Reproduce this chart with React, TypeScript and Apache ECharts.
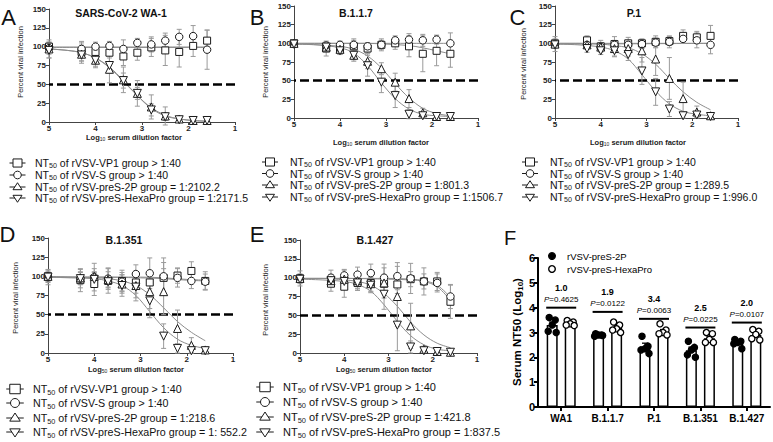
import React, { useEffect, useRef } from "react";
import * as echarts from "echarts";

const FONT = '"Liberation Sans", Arial, Helvetica, sans-serif';

// log10 serum dilution factor of each measured point
const LOG_DILUTION = [5, 4.3, 4.0, 3.7, 3.4, 3.1, 2.8, 2.5, 2.2, 1.9, 1.6];
const GROUPS = ["rVSV-VP1", "rVSV-S", "rVSV-preS-2P", "rVSV-preS-HexaPro"];

// ---------- Panel A : SARS-CoV-2 WA-1 ----------
const A_VP1 = [100, 93, 93, 92, 87, 92, 99, 95, 93, 101, 108];
const A_VP1_SD = [6, 12, 10, 12, 12, 10, 12, 20, 20, 14, 14];
const A_S = [98, 97, 100, 101, 97, 105, 103, 108, 113, 114, 96];
const A_S_SD = [8, 10, 6, 6, 12, 6, 10, 10, 10, 14, 26];
const A_2P = [97, 90, 82, 70, 56, 38, 20, 8, 4, 2, 2];
const A_2P_SD = [12, 12, 10, 18, 17, 17, 16, 12, 4, 2, 2];
const A_HEXA = [95, 89, 82, 75, 55, 38, 16, 7, 3, 2, 2];
const A_HEXA_SD = [10, 8, 8, 10, 10, 8, 8, 5, 2, 1, 1];
const A_FIT_VP1 = [[5, 99], [4, 99], [3, 99], [2, 99], [1.6, 99]];
const A_FIT_S = [[5, 99.5], [3, 99.5], [1.6, 99.5]];
const A_FIT_2P = [[5, 97], [4.6, 95], [4.3, 92], [4, 85], [3.7, 72], [3.4, 54], [3.1, 35], [2.8, 19], [2.5, 9], [2.2, 4], [1.9, 2], [1.6, 1]];
const A_FIT_HEXA = [[5, 97], [4.6, 95], [4.3, 92], [4, 85], [3.7, 73], [3.4, 55], [3.1, 35], [2.8, 18], [2.5, 8], [2.2, 4], [1.9, 2], [1.6, 1]];
const A_NT50 = ["> 1:40", "> 1:40", "= 1:2102.2", "= 1:2171.5"];

// ---------- Panel B : B.1.1.7 ----------
const B_VP1 = [100, 93, 93, 96, 93, 98, 100, 96, 86, 90, 86];
const B_VP1_SD = [4, 10, 8, 8, 6, 8, 8, 14, 24, 20, 18];
const B_S = [99, 97, 98, 98, 96, 98, 104, 105, 104, 105, 100];
const B_S_SD = [3, 5, 5, 8, 5, 6, 6, 8, 8, 6, 14];
const B_2P = [100, 95, 92, 84, 76, 66, 48, 26, 7, 2, 2];
const B_2P_SD = [4, 6, 6, 6, 10, 8, 12, 12, 6, 2, 2];
const B_HEXA = [99, 95, 90, 84, 70, 48, 30, 5, 3, 2, 2];
const B_HEXA_SD = [3, 6, 5, 8, 14, 14, 16, 6, 3, 2, 2];
const B_FIT_VP1 = [[5, 100], [4, 100], [3.5, 100], [3, 99], [2.5, 97], [2.2, 94], [1.9, 90], [1.6, 86]];
const B_FIT_S = [[5, 100], [3, 100], [1.6, 100]];
const B_FIT_2P = [[5, 99], [4.5, 98], [4, 96], [3.7, 92], [3.4, 83], [3.1, 67], [2.8, 46], [2.5, 27], [2.2, 13], [1.9, 6], [1.6, 3]];
const B_FIT_HEXA = [[5, 99], [4.5, 98], [4, 94], [3.7, 87], [3.4, 70], [3.1, 47], [2.8, 26], [2.5, 12], [2.2, 5], [1.9, 3], [1.6, 2]];
const B_NT50 = ["> 1:40", "> 1:40", "= 1:801.3", "= 1:1506.7"];

// ---------- Panel C : P.1 ----------
const C_VP1 = [100, 104, 96, 99, 100, 100, 102, 103, 110, 108, 110];
const C_VP1_SD = [6, 6, 8, 10, 8, 6, 8, 6, 8, 8, 14];
const C_S = [99, 98, 95, 98, 98, 99, 101, 102, 106, 104, 98];
const C_S_SD = [10, 6, 6, 6, 6, 6, 6, 8, 6, 10, 12];
const C_2P = [99, 98, 95, 93, 93, 90, 79, 53, 26, 8, 3];
const C_2P_SD = [5, 5, 5, 10, 10, 15, 22, 28, 22, 8, 3];
const C_HEXA = [98, 93, 90, 90, 85, 63, 35, 12, 3, 4, 2];
const C_HEXA_SD = [4, 5, 5, 8, 8, 18, 18, 10, 3, 3, 2];
const C_FIT_VP1 = [[5, 100], [3, 100], [1.6, 100]];
const C_FIT_S = [[5, 99], [3, 99.5], [1.6, 100]];
const C_FIT_2P = [[5, 100], [4.5, 100], [4, 99], [3.7, 97], [3.4, 94], [3.1, 86], [2.8, 72], [2.5, 53], [2.2, 35], [1.9, 21], [1.6, 11]];
const C_FIT_HEXA = [[5, 99], [4.5, 98], [4, 95], [3.7, 90], [3.4, 79], [3.1, 58], [2.8, 36], [2.5, 19], [2.2, 9], [1.9, 5], [1.6, 3]];
const C_NT50 = ["> 1:40", "> 1:40", "= 1:289.5", "= 1:996.0"];

// ---------- Panel D : B.1.351 ----------
const D_VP1 = [100, 95, 90, 94, 94, 92, 92, 98, 101, 107, 94];
const D_VP1_SD = [8, 15, 15, 16, 14, 14, 14, 20, 10, 12, 12];
const D_S = [99, 97, 99, 97, 93, 103, 104, 100, 98, 94, 93];
const D_S_SD = [10, 12, 18, 14, 12, 12, 20, 24, 12, 10, 10];
const D_2P = [100, 98, 100, 96, 90, 88, 80, 80, 32, 10, 4];
const D_2P_SD = [6, 8, 10, 10, 12, 16, 22, 30, 24, 10, 4];
const D_HEXA = [99, 97, 96, 93, 88, 86, 68, 22, 6, 3, 3];
const D_HEXA_SD = [6, 8, 10, 8, 14, 18, 22, 16, 6, 3, 2];
const D_FIT_VP1 = [[5, 99], [4, 99], [3, 98], [2.5, 97], [2, 95], [1.6, 94]];
const D_FIT_S = [[5, 99], [4, 99], [3, 99], [2.5, 98], [2, 96], [1.6, 95]];
const D_FIT_2P = [[5, 100], [4.5, 99], [4, 98], [3.7, 97], [3.4, 94], [3.1, 88], [2.8, 76], [2.5, 59], [2.2, 41], [1.9, 27], [1.6, 16]];
const D_FIT_HEXA = [[5, 99], [4.5, 98], [4, 97], [3.7, 94], [3.4, 88], [3.1, 75], [2.8, 54], [2.5, 33], [2.2, 18], [1.9, 10], [1.6, 6]];
const D_NT50 = ["> 1:40", "> 1:40", "= 1:218.6", "= 1: 552.2"];

// ---------- Panel E : B.1.427 ----------
const E_VP1 = [99, 92, 88, 93, 93, 92, 91, 98, 95, 95, 68];
const E_VP1_SD = [6, 10, 14, 8, 12, 10, 12, 10, 10, 12, 22];
const E_S = [99, 100, 103, 104, 106, 100, 102, 99, 95, 93, 75];
const E_S_SD = [4, 10, 8, 10, 12, 18, 18, 20, 18, 12, 16];
const E_2P = [99, 96, 98, 96, 92, 93, 75, 36, 5, 2, 1];
const E_2P_SD = [10, 8, 12, 10, 10, 20, 40, 30, 4, 2, 2];
const E_HEXA = [98, 96, 95, 93, 90, 78, 37, 8, 3, 2, 1];
const E_HEXA_SD = [6, 6, 10, 10, 10, 20, 34, 8, 3, 2, 2];
const E_FIT_VP1 = [[5, 99], [4, 99], [3, 98], [2.5, 97], [2.2, 95], [1.9, 88], [1.6, 70]];
const E_FIT_S = [[5, 99], [4, 99], [3, 99], [2.5, 98], [2.2, 96], [1.9, 90], [1.6, 74]];
const E_FIT_2P = [[5, 99], [4.5, 99], [4, 97], [3.7, 95], [3.4, 90], [3.1, 79], [2.8, 62], [2.5, 41], [2.2, 24], [1.9, 13], [1.6, 7]];
const E_FIT_HEXA = [[5, 98], [4.5, 97], [4, 95], [3.7, 91], [3.4, 82], [3.1, 64], [2.8, 42], [2.5, 23], [2.2, 11], [1.9, 5], [1.6, 3]];
const E_NT50 = ["> 1:40", "> 1:40", "= 1:421.8", "= 1:837.5"];

const X_TICKS = [1, 2, 3, 4, 5];
const Y_TICKS = [0, 25, 50, 75, 100, 125, 150];

// ---------- Panel F : serum NT50 ----------
const F_CATS = ["WA1", "B.1.1.7", "P.1", "B.1.351", "B.1.427"];
const F_SERIES = ["rVSV-preS-2P", "rVSV-preS-HexaPro"];
const F_2P_MEAN = [3.3, 2.9, 2.42, 2.29, 2.57];
const F_HEXA_MEAN = [3.36, 3.2, 3.05, 2.77, 2.9];
const F_2P_SEM = [0.12, 0.03, 0.15, 0.12, 0.06];
const F_HEXA_SEM = [0.04, 0.07, 0.07, 0.08, 0.08];
const F_2P_PTS = [[3.6, 3.5, 3.3, 3.05, 3.0], [2.95, 2.9, 2.9, 2.85, 2.88], [2.85, 2.45, 2.35, 2.3, 2.15], [2.65, 2.4, 2.3, 2.1, 2.0], [2.72, 2.65, 2.6, 2.55, 2.35]];
const F_HEXA_PTS = [[3.48, 3.42, 3.35, 3.3, 3.28], [3.42, 3.3, 3.15, 3.1, 3.0], [3.35, 3.1, 3.0, 2.95, 2.9], [3.0, 2.95, 2.72, 2.6, 2.6], [3.12, 3.05, 2.92, 2.75, 2.7]];
const F_FOLD = ["1.0", "1.9", "3.4", "2.5", "2.0"];
const F_PVAL = ["0.4625", "0.0122", "0.0063", "0.0225", "0.0107"];
const F_BRACKET_Y = [4.0, 3.83, 3.55, 3.2, 3.4];
const F_Y_MAX = 6;

// ---------- layout (positions & styles only) ----------
const LAYOUT: any = {
  A: { grid: { left: 49, top: 9, width: 186, height: 113 }, letter: [8.5, 17], title: [121, 13], yName: [20, 62], xName: [134, 137], logSub: "10", lg: { mx: 17.5, tx: 35, rows: [163, 175, 187, 198], font: 10.5, sym: 9 } },
  B: { grid: { left: 294, top: 6, width: 184, height: 112 }, letter: [257, 17], title: [356, 13], yName: [265, 62], xName: [381, 142], logSub: "10", lg: { mx: 270, tx: 290, rows: [162, 173.5, 185, 197], font: 10.5, sym: 9 } },
  C: { grid: { left: 555, top: 6, width: 183, height: 112 }, letter: [517.5, 17], title: [634, 13], yName: [523, 64], xName: [638, 142], logSub: "10", lg: { mx: 530, tx: 550, rows: [162, 173.5, 185, 197], font: 10.5, sym: 9 } },
  D: { grid: { left: 48, top: 238, width: 185, height: 115 }, letter: [7.5, 234.5], title: [124, 240], yName: [15, 298], xName: [136, 369], logSub: "50", lg: { mx: 15, tx: 33, rows: [389, 403, 418, 432], font: 10.7, sym: 10.5 } },
  E: { grid: { left: 300, top: 240, width: 177, height: 113 }, letter: [257, 234.5], title: [375, 240], yName: [265, 300], xName: [384, 369], logSub: "50", lg: { mx: 265, tx: 283, rows: [387, 402, 417, 432], font: 11, sym: 10.5 } },
  F: { grid: { left: 538, top: 258, width: 232, height: 149 }, letter: [510, 237.5], yName: [517, 332], lg: { mx: 552, tx: 567, rows: [256, 269], font: 9.5 } },
};

const PANELS = [
  { key: "A", title: "SARS-CoV-2 WA-1", vals: [A_VP1, A_S, A_2P, A_HEXA], sds: [A_VP1_SD, A_S_SD, A_2P_SD, A_HEXA_SD], fits: [A_FIT_VP1, A_FIT_S, A_FIT_2P, A_FIT_HEXA], nt50: A_NT50 },
  { key: "B", title: "B.1.1.7", vals: [B_VP1, B_S, B_2P, B_HEXA], sds: [B_VP1_SD, B_S_SD, B_2P_SD, B_HEXA_SD], fits: [B_FIT_VP1, B_FIT_S, B_FIT_2P, B_FIT_HEXA], nt50: B_NT50 },
  { key: "C", title: "P.1", vals: [C_VP1, C_S, C_2P, C_HEXA], sds: [C_VP1_SD, C_S_SD, C_2P_SD, C_HEXA_SD], fits: [C_FIT_VP1, C_FIT_S, C_FIT_2P, C_FIT_HEXA], nt50: C_NT50 },
  { key: "D", title: "B.1.351", vals: [D_VP1, D_S, D_2P, D_HEXA], sds: [D_VP1_SD, D_S_SD, D_2P_SD, D_HEXA_SD], fits: [D_FIT_VP1, D_FIT_S, D_FIT_2P, D_FIT_HEXA], nt50: D_NT50 },
  { key: "E", title: "B.1.427", vals: [E_VP1, E_S, E_2P, E_HEXA], sds: [E_VP1_SD, E_S_SD, E_2P_SD, E_HEXA_SD], fits: [E_FIT_VP1, E_FIT_S, E_FIT_2P, E_FIT_HEXA], nt50: E_NT50 },
];

const SYMBOLS = [
  { symbol: "rect", size: 7, rotate: 0 },
  { symbol: "circle", size: 7.5, rotate: 0 },
  { symbol: "triangle", size: 8, rotate: 0 },
  { symbol: "triangle", size: 8, rotate: 180 },
];

const INK = "#1a1a1a";
const ERR = "#9a9a9a";
const FIT = "#8c8c8c";
const JITTER = [-3, 3, 0, -4, 4];

const SUB_RICH = (size: number) => ({
  s: { fontSize: size, fontFamily: FONT, fill: INK, color: INK, verticalAlign: "bottom", lineHeight: size * 0.9 },
});

function errorBarItem(color: string, cap: number, width: number) {
  return (params: any, api: any) => {
    const x = api.value(0);
    const y = api.value(1);
    const e = api.value(2);
    const hi = api.coord([x, y + e]);
    const lo = api.coord([x, y - e]);
    const st = { stroke: color, lineWidth: width };
    return {
      type: "group",
      children: [
        { type: "line", shape: { x1: hi[0], y1: hi[1], x2: lo[0], y2: lo[1] }, style: st },
        { type: "line", shape: { x1: hi[0] - cap, y1: hi[1], x2: hi[0] + cap, y2: hi[1] }, style: st },
        { type: "line", shape: { x1: lo[0] - cap, y1: lo[1], x2: lo[0] + cap, y2: lo[1] }, style: st },
      ],
    };
  };
}

function legendSymbol(kind: number, cx: number, cy: number, s: number) {
  const st = { fill: "#fff", stroke: INK, lineWidth: 1 };
  const h = s / 2;
  const line = { type: "line", shape: { x1: cx - h - 3.5, y1: cy, x2: cx + h + 3.5, y2: cy }, style: { stroke: INK, lineWidth: 1 } };
  let shape: any;
  if (kind === 0) shape = { type: "rect", shape: { x: cx - h, y: cy - h * 0.9, width: s, height: s * 0.9 }, style: st };
  else if (kind === 1) shape = { type: "circle", shape: { cx, cy, r: h * 0.85 }, style: st };
  else if (kind === 2) shape = { type: "polygon", shape: { points: [[cx, cy - h * 0.95], [cx + h, cy + h * 0.6], [cx - h, cy + h * 0.6]] }, style: st };
  else shape = { type: "polygon", shape: { points: [[cx, cy + h * 0.95], [cx + h, cy - h * 0.6], [cx - h, cy - h * 0.6]] }, style: st };
  return [line, shape];
}

function buildOption() {
  const grid: any[] = [];
  const xAxis: any[] = [];
  const yAxis: any[] = [];
  const series: any[] = [];
  const graphic: any[] = [];

  PANELS.forEach((p, i) => {
    const L = LAYOUT[p.key];
    grid.push({ ...L.grid, containLabel: false });
    xAxis.push({
      type: "value",
      gridIndex: i,
      min: X_TICKS[0],
      max: X_TICKS[X_TICKS.length - 1],
      interval: 1,
      inverse: true,
      axisLine: { show: true, onZero: false, lineStyle: { color: "#444", width: 1 } },
      axisTick: { show: true, length: 3, lineStyle: { color: "#444" } },
      axisLabel: { fontSize: 8, fontWeight: "bold", color: "#222", fontFamily: FONT, margin: 2 },
      splitLine: { show: false },
    });
    yAxis.push({
      type: "value",
      gridIndex: i,
      min: Y_TICKS[0],
      max: Y_TICKS[Y_TICKS.length - 1],
      interval: 25,
      axisLine: { show: true, lineStyle: { color: "#444", width: 1 } },
      axisTick: { show: true, length: 3, lineStyle: { color: "#444" } },
      axisLabel: { fontSize: 8, fontWeight: "bold", color: "#222", fontFamily: FONT, margin: 3 },
      splitLine: { show: false },
    });

    // fitted curves
    p.fits.forEach((fit, k) => {
      const s: any = {
        type: "line",
        xAxisIndex: i,
        yAxisIndex: i,
        data: fit,
        smooth: 0.35,
        symbol: "none",
        silent: true,
        lineStyle: { color: FIT, width: 1 },
        z: 1,
      };
      if (k === 0) {
        s.markLine = {
          silent: true,
          symbol: ["none", "none"],
          label: { show: false },
          lineStyle: { color: "#000", width: 2.5, type: [9, 4] },
          data: [{ yAxis: 50 }],
          z: 2,
        };
      }
      series.push(s);
    });

    // error bars and markers
    p.vals.forEach((vals, k) => {
      series.push({
        type: "custom",
        xAxisIndex: i,
        yAxisIndex: i,
        silent: true,
        clip: false,
        encode: { x: 0, y: 1 },
        data: LOG_DILUTION.map((x, j) => [x, vals[j], p.sds[k][j]]),
        renderItem: errorBarItem(ERR, 2.5, 1),
        z: 3,
      });
    });
    p.vals.forEach((vals, k) => {
      const sy = SYMBOLS[k];
      series.push({
        type: "scatter",
        xAxisIndex: i,
        yAxisIndex: i,
        data: LOG_DILUTION.map((x, j) => [x, vals[j]]),
        symbol: sy.symbol,
        symbolSize: sy.size,
        symbolRotate: sy.rotate,
        itemStyle: { color: "#fff", borderColor: INK, borderWidth: 1, opacity: 1 },
        z: 5,
      });
    });

    // texts
    graphic.push({ type: "text", x: L.letter[0], y: L.letter[1], style: { text: p.key, fontSize: 22, fontFamily: FONT, fill: "#111", align: "center", verticalAlign: "middle" } });
    graphic.push({ type: "text", x: L.title[0], y: L.title[1], style: { text: p.title, fontSize: 10.5, fontWeight: "bold", fontFamily: FONT, fill: "#111", align: "center", verticalAlign: "middle" } });
    graphic.push({ type: "text", x: L.yName[0], y: L.yName[1], rotation: Math.PI / 2, style: { text: "Percent viral infection", fontSize: 7.5, fontFamily: FONT, fill: "#222", align: "center", verticalAlign: "middle" } });
    graphic.push({ type: "text", x: L.xName[0], y: L.xName[1], style: { text: "Log{s|" + L.logSub + "} serum dilution factor", fontSize: 7.5, fontWeight: "bold", fontFamily: FONT, fill: "#222", align: "center", verticalAlign: "middle", lineHeight: 9, rich: SUB_RICH(5) } });

    // legend
    const lg = L.lg;
    lg.rows.forEach((ry: number, k: number) => {
      legendSymbol(k, lg.mx, ry, lg.sym).forEach((el) => graphic.push(el));
      graphic.push({
        type: "text",
        x: lg.tx,
        y: ry,
        style: {
          text: "NT{s|50} of " + GROUPS[k] + " group " + p.nt50[k],
          fontSize: lg.font,
          fontFamily: FONT,
          fill: "#111",
          align: "left",
          verticalAlign: "middle",
          lineHeight: lg.font * 1.3,
          rich: SUB_RICH(lg.font * 0.68),
        },
      });
    });
  });

  // ---------- Panel F ----------
  const fi = PANELS.length;
  const LF = LAYOUT.F;
  grid.push({ ...LF.grid, containLabel: false });
  xAxis.push({
    type: "category",
    gridIndex: fi,
    data: F_CATS,
    axisLine: { show: true, lineStyle: { color: "#000", width: 2 } },
    axisTick: { show: true, alignWithLabel: true, length: 4, lineStyle: { color: "#000", width: 2 } },
    axisLabel: { interval: 0, fontSize: 10, fontWeight: "bold", color: "#000", fontFamily: FONT, margin: 6 },
    splitLine: { show: false },
  });
  yAxis.push({
    type: "value",
    gridIndex: fi,
    min: 0,
    max: F_Y_MAX,
    interval: 1,
    axisLine: { show: true, lineStyle: { color: "#000", width: 2 } },
    axisTick: { show: true, length: 4, lineStyle: { color: "#000", width: 2 } },
    axisLabel: { fontSize: 11, fontWeight: "bold", color: "#000", fontFamily: FONT, margin: 3 },
    splitLine: { show: false },
  });
  [F_2P_MEAN, F_HEXA_MEAN].forEach((means, g) => {
    series.push({
      type: "bar",
      name: F_SERIES[g],
      xAxisIndex: fi,
      yAxisIndex: fi,
      data: means,
      barWidth: 11,
      barGap: "64%",
      itemStyle: { color: "#fff", borderColor: "#000", borderWidth: 1.5 },
      z: 2,
    });
  });
  const OFF = 9;
  // SEM error bars
  series.push({
    type: "custom",
    xAxisIndex: fi,
    yAxisIndex: fi,
    silent: true,
    encode: { x: 0, y: 1 },
    data: [
      ...F_2P_MEAN.map((m, i) => [i, m, F_2P_SEM[i], 0]),
      ...F_HEXA_MEAN.map((m, i) => [i, m, F_HEXA_SEM[i], 1]),
    ],
    renderItem: (params: any, api: any) => {
      const x = api.value(0);
      const y = api.value(1);
      const e = api.value(2);
      const off = api.value(3) === 0 ? -OFF : OFF;
      const hi = api.coord([x, y + e]);
      const lo = api.coord([x, y - e]);
      const st = { stroke: "#000", lineWidth: 1.3 };
      return {
        type: "group",
        children: [
          { type: "line", shape: { x1: hi[0] + off, y1: hi[1], x2: lo[0] + off, y2: lo[1] }, style: st },
          { type: "line", shape: { x1: hi[0] + off - 3, y1: hi[1], x2: hi[0] + off + 3, y2: hi[1] }, style: st },
        ],
      };
    },
    z: 3,
  });
  // individual animals
  const dots: any[] = [];
  [F_2P_PTS, F_HEXA_PTS].forEach((pts, g) => {
    pts.forEach((row, i) => row.forEach((v, k) => dots.push([i, v, g, k])));
  });
  series.push({
    type: "custom",
    xAxisIndex: fi,
    yAxisIndex: fi,
    silent: true,
    encode: { x: 0, y: 1 },
    data: dots,
    renderItem: (params: any, api: any) => {
      const c = api.coord([api.value(0), api.value(1)]);
      const g = api.value(2);
      const k = api.value(3);
      const off = g === 0 ? -OFF : OFF;
      return {
        type: "circle",
        shape: { cx: c[0] + off + JITTER[k], cy: c[1], r: 3.1 },
        style: { fill: g === 0 ? "#000" : "#fff", stroke: "#000", lineWidth: 1.3 },
      };
    },
    z: 4,
  });
  // fold change and P values
  series.push({
    type: "custom",
    xAxisIndex: fi,
    yAxisIndex: fi,
    silent: true,
    clip: false,
    encode: { x: 0, y: 1 },
    data: F_BRACKET_Y.map((y, i) => [i, y]),
    renderItem: (params: any, api: any) => {
      const i = params.dataIndex;
      const c = api.coord([api.value(0), api.value(1)]);
      return {
        type: "group",
        children: [
          { type: "line", shape: { x1: c[0] - 15, y1: c[1], x2: c[0] + 15, y2: c[1] }, style: { stroke: "#000", lineWidth: 2 } },
          {
            type: "text",
            style: {
              text: "{i|P}=" + F_PVAL[i],
              x: c[0],
              y: c[1] - 8,
              align: "center",
              verticalAlign: "middle",
              fontSize: 8,
              fontFamily: FONT,
              fill: "#000",
              rich: { i: { fontStyle: "italic", fontSize: 8, fontFamily: FONT, fill: "#000" } },
            },
          },
          {
            type: "text",
            style: { text: F_FOLD[i], x: c[0], y: c[1] - 20, align: "center", verticalAlign: "middle", fontSize: 9, fontWeight: "bold", fontFamily: FONT, fill: "#000" },
          },
        ],
      };
    },
    z: 5,
  });

  graphic.push({ type: "text", x: LF.letter[0], y: LF.letter[1], style: { text: "F", fontSize: 20, fontFamily: FONT, fill: "#111", align: "center", verticalAlign: "middle" } });
  graphic.push({ type: "text", x: LF.yName[0], y: LF.yName[1], rotation: Math.PI / 2, style: { text: "Serum NT50 (Log{s|10})", fontSize: 11.5, fontWeight: "bold", fontFamily: FONT, fill: "#000", align: "center", verticalAlign: "middle", lineHeight: 14, rich: { s: { fontSize: 8, fontWeight: "bold", fontFamily: FONT, fill: "#000", verticalAlign: "bottom", lineHeight: 8 } } } });
  LF.lg.rows.forEach((ry: number, g: number) => {
    graphic.push({ type: "circle", shape: { cx: LF.lg.mx, cy: ry, r: 3.3 }, style: { fill: g === 0 ? "#000" : "#fff", stroke: "#000", lineWidth: 1.4 } });
    graphic.push({ type: "text", x: LF.lg.tx, y: ry, style: { text: F_SERIES[g], fontSize: LF.lg.font, fontFamily: FONT, fill: "#000", align: "left", verticalAlign: "middle" } });
  });

  return {
    animation: false,
    backgroundColor: "#fff",
    grid,
    xAxis,
    yAxis,
    series,
    graphic: { elements: graphic.map((g) => ({ ...g, z: 100 })) },
  };
}

export default function App() {
  const ref = useRef<HTMLDivElement>(null);
  useEffect(() => {
    if (!ref.current) return;
    const chart = echarts.init(ref.current, undefined, { renderer: "svg" });
    chart.setOption(buildOption() as any);
    return () => chart.dispose();
  }, []);
  return <div ref={ref} style={{ position: "absolute", left: 0, top: 0, width: 773, height: 442 }} />;
}
